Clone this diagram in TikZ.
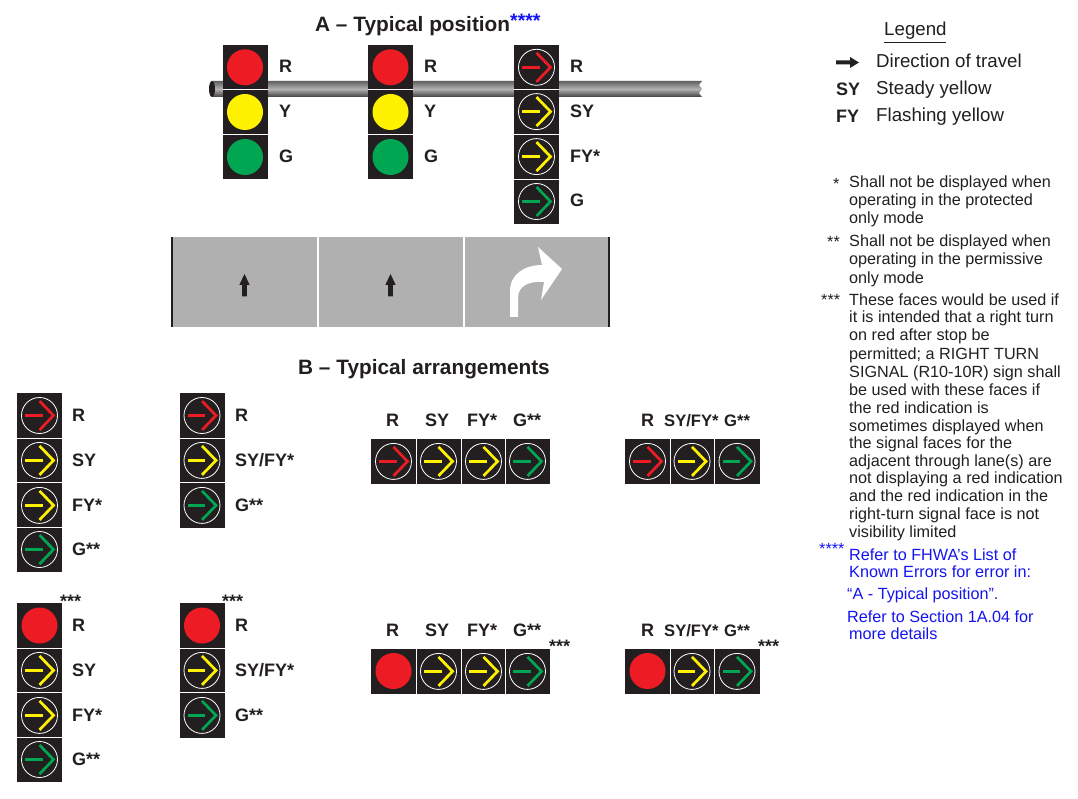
\documentclass[tikz,border=0pt]{standalone}
\usepackage{fontspec}
\setmainfont{Liberation Sans}
\definecolor{ink}{HTML}{231F20}
\definecolor{sred}{HTML}{ED1C24}
\definecolor{syel}{HTML}{FFF200}
\definecolor{sgrn}{HTML}{00A651}
\definecolor{road}{HTML}{B0B0B0}
\definecolor{blu}{HTML}{1414F0}
\tikzset{
 lab/.style={anchor=base west,inner sep=0pt,text=ink,font=\fontsize{18}{20}\selectfont\bfseries},
 labn/.style={lab,font=\fontsize{16.6}{20}\selectfont\bfseries},
 ttl/.style={anchor=base west,inner sep=0pt,text=ink,font=\fontsize{20.8}{23}\selectfont\bfseries},
 leg/.style={anchor=base west,inner sep=0pt,text=ink,font=\fontsize{18.7}{21}\selectfont},
 note/.style={anchor=base west,inner sep=0pt,text=ink,font=\fontsize{16.2}{18}\selectfont},
 bnote/.style={note,text=blu},
 star/.style={anchor=base west,inner sep=0pt,text=ink,font=\fontsize{18}{20}\selectfont\bfseries}
}
% #1 centre x, #2 centre y, #3 colour
\newcommand{\ballface}[3]{%
 \fill[ink] (#1-22.5,#2-22.5) rectangle (#1+22.5,#2+22.5);
 \fill[#3] (#1,#2) circle (18);
}
\newcommand{\arrface}[3]{%
 \fill[ink] (#1-22.5,#2-22.5) rectangle (#1+22.5,#2+22.5);
 \draw[white,line width=0.8pt] (#1,#2) circle (18);
 \fill[#3] (#1-14.5,#2-1.4) rectangle (#1+3,#2+1.4);
 \fill[#3] (#1+0.95,#2-15.45) -- (#1+15.9,#2) -- (#1+0.95,#2+15.45) -- (#1-0.95,#2+13.55) -- (#1+12.1,#2) -- (#1-0.95,#2-13.55) -- cycle;
}
\newcommand{\vsep}[2]{\draw[white,line width=0.9pt] (#1-22.5,#2) -- (#1+22.5,#2);}
\newcommand{\hsep}[2]{\draw[white,line width=0.9pt] (#1,#2-22.5) -- (#1,#2+22.5);}
\begin{document}
\begin{tikzpicture}[x=1pt,y=-1pt]
\useasboundingbox (0,0) rectangle (1078,799);
\fill[white] (0,0) rectangle (1078,799);
% titles
\node[ttl] (titleA) at (315,32) {A – Typical position};
\node[anchor=base west,inner sep=0pt,text=blu,font=\fontsize{19.5}{21}\selectfont\bfseries] (starsA) at (510,28) {****};
\node[ttl] (titleB) at (298,374) {B – Typical arrangements};
% pole
\shade[top color=black!62,bottom color=black!75,middle color=black!30] (212,81) -- (702,81) -- (699,85) -- (702,89) -- (699,93) -- (702,97) -- (212,97) -- cycle;
\fill[ink] (212,89) ellipse (3 and 8);
% section A faces
\foreach \x in {245,390.5}{
 \ballface{\x}{67.3}{sred}\ballface{\x}{112}{syel}\ballface{\x}{157}{sgrn}
 \vsep{\x}{89.6}\vsep{\x}{134.4}
}
\arrface{536.5}{67.3}{sred}\arrface{536.5}{111.6}{syel}\arrface{536.5}{156.6}{syel}\arrface{536.5}{201.5}{sgrn}
\vsep{536.5}{89.6}\vsep{536.5}{134.4}\vsep{536.5}{179.2}
\node[lab] (a1) at (279,73) {R};
\node[lab] (a2) at (279,118) {Y};
\node[lab] (a3) at (279,163) {G};
\node[lab] (a4) at (424,73) {R};
\node[lab] (a5) at (424,118) {Y};
\node[lab] (a6) at (424,163) {G};
\node[lab] (a7) at (570,73) {R};
\node[lab] (a8) at (570,118) {SY};
\node[lab] (a9) at (570,163) {FY*};
\node[lab] (a10) at (570,207) {G};
% road
\fill[road] (171,237) rectangle (610,327);
\fill[ink] (171,237) rectangle (173,327);
\fill[ink] (608,237) rectangle (610,327);
\fill[white] (317,237) rectangle (319,327);
\fill[white] (462.5,237) rectangle (464.5,327);
\foreach \x in {244.5,390.5}{
 \fill[ink] (\x-2.3,296.5) -- (\x-2.3,285) -- (\x-5.2,285) -- (\x,274) -- (\x+5.2,285) -- (\x+2.3,285) -- (\x+2.3,296.5) -- cycle;
}
\fill[white] (510,317) -- (510,291) .. controls (510,274) and (525,265) .. (542,265) -- (538,247) -- (562,269) -- (541,300) -- (544,282) .. controls (530,281) and (518,285) .. (518,298) -- (518,317) -- cycle;
% B top-left column
\arrface{39.5}{415.5}{sred}\arrface{39.5}{460.4}{syel}\arrface{39.5}{505.4}{syel}\arrface{39.5}{549.5}{sgrn}
\vsep{39.5}{438}\vsep{39.5}{482.5}\vsep{39.5}{527.5}
\node[lab] (b1) at (72,421) {R};
\node[lab] (b2) at (72,466) {SY};
\node[lab] (b3) at (72,511) {FY*};
\node[lab] (b4) at (72,555) {G**};
% B top second column
\arrface{202}{415.5}{sred}\arrface{202}{460.4}{syel}\arrface{202}{505.4}{sgrn}
\vsep{202}{438}\vsep{202}{482.5}
\node[lab] (c1) at (235,421) {R};
\node[lab] (c2) at (235,466) {SY/FY*};
\node[lab] (c3) at (235,511) {G**};
% B top row 1
\arrface{393.5}{461.4}{sred}\arrface{438.5}{461.4}{syel}\arrface{483.5}{461.4}{syel}\arrface{527.5}{461.4}{sgrn}
\hsep{416}{461}\hsep{461}{461}\hsep{505.5}{461}
\node[lab] (d1) at (386,426) {R};
\node[lab] (d2) at (425,426) {SY};
\node[lab] (d3) at (467,426) {FY*};
\node[lab] (d4) at (513,426) {G**};
% B top row 2
\arrface{647.5}{461.4}{sred}\arrface{692}{461.4}{syel}\arrface{737}{461.4}{sgrn}
\hsep{670}{461}\hsep{714.5}{461}
\node[lab] (e1) at (641,426) {R};
\node[labn] (e2) at (664,426) {SY/FY*};
\node[labn] (e3) at (724,426) {G**};
% B lower-left column
\ballface{39.5}{625.5}{sred}\arrface{39.5}{670.4}{syel}\arrface{39.5}{715.4}{syel}\arrface{39.5}{759.5}{sgrn}
\vsep{39.5}{648}\vsep{39.5}{692.5}\vsep{39.5}{737.5}
\node[star] (s1) at (60,607) {***};
\node[lab] (f1) at (72,631) {R};
\node[lab] (f2) at (72,676) {SY};
\node[lab] (f3) at (72,721) {FY*};
\node[lab] (f4) at (72,765) {G**};
% B lower second column
\ballface{202}{625.5}{sred}\arrface{202}{670.4}{syel}\arrface{202}{715.4}{sgrn}
\vsep{202}{648}\vsep{202}{692.5}
\node[star] (s2) at (222,607) {***};
\node[lab] (g1) at (235,631) {R};
\node[lab] (g2) at (235,676) {SY/FY*};
\node[lab] (g3) at (235,721) {G**};
% B lower row 1
\ballface{393.5}{671}{sred}\arrface{438.5}{671.4}{syel}\arrface{483.5}{671.4}{syel}\arrface{527.5}{671.4}{sgrn}
\hsep{416}{671}\hsep{461}{671}\hsep{505.5}{671}
\node[lab] (h1) at (386,636) {R};
\node[lab] (h2) at (425,636) {SY};
\node[lab] (h3) at (467,636) {FY*};
\node[lab] (h4) at (513,636) {G**};
\node[star] (s3) at (549,652) {***};
% B lower row 2
\ballface{647.5}{671}{sred}\arrface{692}{671.4}{syel}\arrface{737}{671.4}{sgrn}
\hsep{670}{671}\hsep{714.5}{671}
\node[lab] (i1) at (641,636) {R};
\node[labn] (i2) at (664,636) {SY/FY*};
\node[labn] (i3) at (724,636) {G**};
\node[star] (s4) at (758,652) {***};
% legend
\node[leg] (lg0) at (884,36) {Legend};
\draw[ink,line width=1.3pt] (884,42.5) -- (946,42.5);
\fill[ink] (836,60.5) -- (850,60.5) -- (850,57) -- (859,62.5) -- (850,68) -- (850,64.5) -- (836,64.5) -- cycle;
\node[lab] (lg1) at (836,96) {SY};
\node[lab] (lg2) at (836,123) {FY};
\node[leg] (lg3) at (876,68) {Direction of travel};
\node[leg] (lg4) at (876,95) {Steady yellow};
\node[leg] (lg5) at (876,122) {Flashing yellow};
% notes
\node[note] (m1) at (833,190) {*};
\node[note] (n1) at (849,187.5) {Shall not be displayed when};
\node[note] (n2) at (849,205.5) {operating in the protected};
\node[note] (n3) at (849,223.5) {only mode};
\node[note] (m2) at (827,248) {**};
\node[note] (n4) at (849,246.5) {Shall not be displayed when};
\node[note] (n5) at (849,264.5) {operating in the permissive};
\node[note] (n6) at (849,283.5) {only mode};
\node[note] (m3) at (821,306) {***};
\node[note] (n7) at (849,305.5) {These faces would be used if};
\node[note] (n8) at (849,323) {it is intended that a right turn};
\node[note] (n9) at (849,341) {on red after stop be};
\node[note] (n10) at (849,359) {permitted; a RIGHT TURN};
\node[note] (n11) at (849,377) {SIGNAL (R10-10R) sign shall};
\node[note] (n12) at (849,395) {be used with these faces if};
\node[note] (n13) at (849,413) {the red indication is};
\node[note] (n14) at (849,431) {sometimes displayed when};
\node[note] (n15) at (849,448.5) {the signal faces for the};
\node[note] (n16) at (849,466) {adjacent through lane(s) are};
\node[note] (n17) at (849,483.5) {not displaying a red indication};
\node[note] (n18) at (849,501) {and the red indication in the};
\node[note] (n19) at (849,519) {right-turn signal face is not};
\node[note] (n20) at (849,537) {visibility limited};
\node[bnote] (m4) at (819,554) {****};
\node[bnote] (o1) at (849,560) {Refer to FHWA’s List of};
\node[bnote] (o2) at (849,577) {Known Errors for error in:};
\node[bnote] (o3) at (847,599) {“A - Typical position”.};
\node[bnote] (o4) at (847,622) {Refer to Section 1A.04 for};
\node[bnote] (o5) at (849,639) {more details};
\end{tikzpicture}
\end{document}
